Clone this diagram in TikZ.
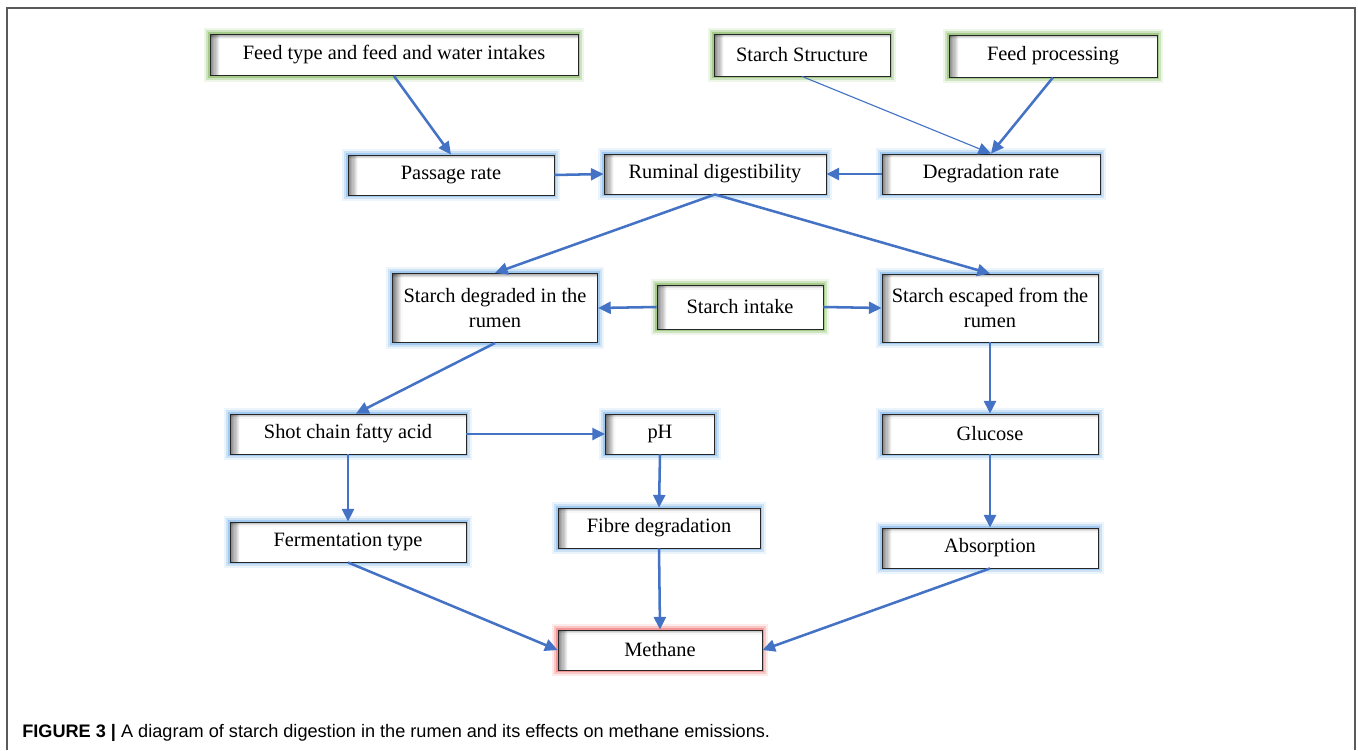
\documentclass[tikz,border=0pt]{standalone}
\usepackage{fontspec}
\setmainfont{Liberation Serif}
\newfontfamily\capfont{Liberation Sans}
\usepackage{tikz}
\usetikzlibrary{arrows.meta,positioning}
\definecolor{arrowblue}{RGB}{68,114,196}
\definecolor{glowgreen}{RGB}{112,173,71}
\definecolor{glowblue}{RGB}{110,170,230}
\definecolor{glowred}{RGB}{240,90,90}
\definecolor{framegray}{RGB}{90,90,90}
\tikzset{every node/.append style={align=center}}
\tikzset{
    box/.style={draw=black!85, fill=white, line width=0.6pt, inner sep=2pt,
        font=\fontsize{14.5}{17.7}\selectfont,
        path picture={
            \foreach \i [evaluate=\i as \op using 0.3-0.09*\i] in {0,...,3}
                \draw[black, opacity=\op, line width=0.8pt]
                    ([yshift=-\i*0.8pt-0.4pt]path picture bounding box.north west) -- ([yshift=-\i*0.8pt-0.4pt]path picture bounding box.north east);
            \foreach \i [evaluate=\i as \op using 0.5-0.06*\i] in {0,...,8}
                \draw[black, opacity=\op, line width=0.8pt]
                    ([xshift=\i*0.8pt+0.4pt]path picture bounding box.north west) -- ([xshift=\i*0.8pt+0.4pt]path picture bounding box.south west);
        }},
    glow/.style={preaction={draw=#1, line width=9pt, opacity=0.12},
        preaction={draw=#1, line width=6pt, opacity=0.25},
        preaction={draw=#1, line width=3pt, opacity=0.45}},
    flow/.style={draw=arrowblue, line width=1.8pt, -{Triangle[length=9pt,width=8.5pt]}},
    thinflow/.style={draw=arrowblue, line width=0.8pt, -{Triangle[length=9pt,width=8.5pt]}}
}

\begin{document}
\begin{tikzpicture}[x=0.025cm, y=-0.025cm]
    \useasboundingbox (0,0) rectangle (1358,750);

    % Frame
    \draw[framegray, line width=1.4pt] (7,750) -- (7,8) -- (1355,8) -- (1355,750);

    % Inputs
    \node[box, glow=glowgreen, minimum width=9.2cm, minimum height=1.03cm] (feedtype) at (394, 55) {Feed type and feed and water intakes};
    \node[box, glow=glowgreen, minimum width=4.4cm, minimum height=1.05cm] (starchstruct) at (802, 55) {Starch Structure};
    \node[box, glow=glowgreen, minimum width=5.2cm, minimum height=1.05cm] (feedproc) at (1053, 56) {Feed processing};

    % Rates
    \node[box, glow=glowblue, minimum width=5.15cm, minimum height=1cm] (passage) at (451, 175) {Passage rate};
    \node[box, glow=glowblue, minimum width=5.55cm, minimum height=1cm] (ruminal) at (715, 174) {Ruminal digestibility};
    \node[box, glow=glowblue, minimum width=5.45cm, minimum height=1cm] (degrate) at (991, 174) {Degradation rate};

    % Starch fate
    \node[box, glow=glowblue, minimum width=5.13cm, minimum height=1.73cm] (stdegraded) at (495, 308) {Starch degraded in the\\rumen};
    \node[box, glow=glowgreen, minimum width=4.15cm, minimum height=1.1cm] (stintake) at (740, 307) {Starch intake};
    \node[box, glow=glowblue, minimum width=5.4cm, minimum height=1.7cm] (stescaped) at (990, 308) {Starch escaped from the\\rumen};

    % Products
    \node[box, glow=glowblue, minimum width=5.9cm, minimum height=1cm] (scfa) at (348, 434) {Shot chain fatty acid};
    \node[box, glow=glowblue, minimum width=2.73cm, minimum height=1cm] (ph) at (660, 434) {pH};
    \node[box, glow=glowblue, minimum width=5.4cm, minimum height=1cm] (glucose) at (990, 434) {Glucose};
    \node[box, glow=glowblue, minimum width=5.9cm, minimum height=1cm] (fermtype) at (348, 542) {Fermentation type};
    \node[box, glow=glowblue, minimum width=5.05cm, minimum height=1cm] (fibre) at (659, 528) {Fibre degradation};
    \node[box, glow=glowblue, minimum width=5.4cm, minimum height=1cm] (absorption) at (990, 548) {Absorption};

    % Output
    \node[box, glow=glowred, minimum width=5.1cm, minimum height=1cm] (methane) at (660, 650) {Methane};

    % Connections
    \draw[flow] (feedtype.south) -- (passage.north);
    \draw[thinflow] (starchstruct.south) -- (degrate.north);
    \draw[flow] (feedproc.south) -- (degrate.north);
    \draw[flow] (passage.east) -- (ruminal.west);
    \draw[flow] (degrate.west) -- (ruminal.east);
    \draw[flow] (ruminal.south) -- (stdegraded.north);
    \draw[flow] (ruminal.south) -- (stescaped.north);
    \draw[flow] (stintake.west) -- (stdegraded.east);
    \draw[flow] (stintake.east) -- (stescaped.west);
    \draw[flow] (stdegraded.south) -- ([xshift=0.2cm]scfa.north);
    \draw[flow] (scfa.east) -- (ph.west);
    \draw[flow] (stescaped.south) -- (glucose.north);
    \draw[flow] (scfa.south) -- (fermtype.north);
    \draw[flow] (ph.south) -- (fibre.north);
    \draw[flow] (glucose.south) -- (absorption.north);
    \draw[flow] (fermtype.south) -- (methane.west);
    \draw[flow] (fibre.south) -- (methane.north);
    \draw[flow] (absorption.south) -- (methane.east);

    % Caption
    \node[anchor=west, inner sep=0pt, font=\capfont\fontsize{12.9}{15}\selectfont] (caption) at (22, 733)
        {\textbf{FIGURE 3 |} A diagram of starch digestion in the rumen and its effects on methane emissions.};
\end{tikzpicture}
\end{document}
